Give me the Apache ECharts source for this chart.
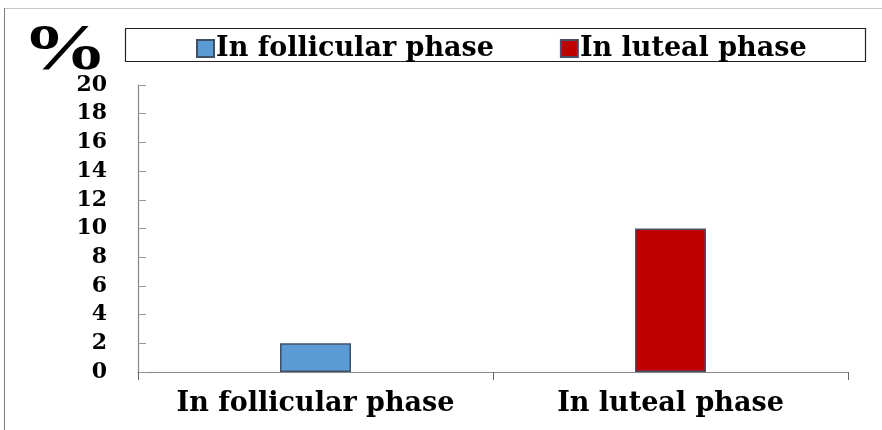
<!DOCTYPE html>
<html>
<head>
<meta charset="utf-8">
<script src="https://cdn.jsdelivr.net/npm/echarts@6/dist/echarts.min.js"></script>
<style>
  html, body { margin: 0; padding: 0; background: #fff; }
  #chart { width: 882px; height: 430px; }
</style>
</head>
<body>
<div id="chart"></div>
<script>
// Share of cases by menstrual cycle phase (%)
const categories = ['In follicular phase', 'In luteal phase'];
const seriesNames = ['In follicular phase', 'In luteal phase'];
const follicularValues = [2, null];
const lutealValues = [null, 10];
const yTicks = [0, 2, 4, 6, 8, 10, 12, 14, 16, 18, 20];
const unitLabel = '%';

const serif = '"DejaVu Serif", "Liberation Serif", serif';

const chart = echarts.init(document.getElementById('chart'));

chart.setOption({
  animation: false,
  backgroundColor: '#fff',
  graphic: [
    // outer frame (top and left edges)
    { type: 'line', shape: { x1: 4, y1: 8.5, x2: 882, y2: 8.5 }, style: { stroke: '#c8c8c8', lineWidth: 1 } },
    { type: 'line', shape: { x1: 4.5, y1: 8, x2: 4.5, y2: 430 }, style: { stroke: '#7a7a7a', lineWidth: 1 } },
    // legend box
    { type: 'rect', shape: { x: 125.5, y: 28.5, width: 740, height: 33 }, style: { fill: 'none', stroke: '#222', lineWidth: 1.2 } },
    // unit label above the value axis, drawn wide and heavy
    {
      type: 'text',
      x: 22,
      y: 19,
      scaleX: 1.3,
      style: {
        text: unitLabel,
        font: 'bold 66px "Liberation Serif", serif',
        fill: '#000',
        textVerticalAlign: 'top'
      }
    }
  ],
  legend: {
    data: seriesNames,
    left: 191,
    top: 30,
    itemGap: 66,
    itemWidth: 17,
    itemHeight: 17,
    icon: 'rect',
    textStyle: { fontFamily: serif, fontWeight: 'bold', fontSize: 27, color: '#000', padding: [0, 0, 0, -3] }
  },
  grid: { left: 138, right: 34, top: 85, bottom: 58 },
  xAxis: {
    type: 'category',
    data: categories,
    axisLine: { lineStyle: { color: '#888', width: 1.2 } },
    axisTick: { show: true, interval: 0, length: 8, lineStyle: { color: '#666' } },
    axisLabel: { interval: 0, hideOverlap: false, fontFamily: serif, fontWeight: 'bold', fontSize: 27, color: '#000', margin: 18 }
  },
  yAxis: {
    type: 'value',
    min: yTicks[0],
    max: yTicks[yTicks.length - 1],
    interval: 2,
    axisLine: { show: true, lineStyle: { color: '#888', width: 1.2 } },
    axisTick: { show: true, inside: true, length: 8, lineStyle: { color: '#999' } },
    splitLine: { show: false },
    axisLabel: { fontFamily: serif, fontWeight: 'bold', fontSize: 22, color: '#000', margin: 31 }
  },
  series: [
    {
      name: seriesNames[0],
      type: 'bar',
      data: follicularValues,
      barWidth: '20%',
      barGap: '-100%',
      itemStyle: { color: '#5b9bd5', borderColor: '#3e5068', borderWidth: 1.5 }
    },
    {
      name: seriesNames[1],
      type: 'bar',
      data: lutealValues,
      barWidth: '20%',
      itemStyle: { color: '#c00000', borderColor: '#4a4f66', borderWidth: 1.5 }
    }
  ]
});
</script>
</body>
</html>
